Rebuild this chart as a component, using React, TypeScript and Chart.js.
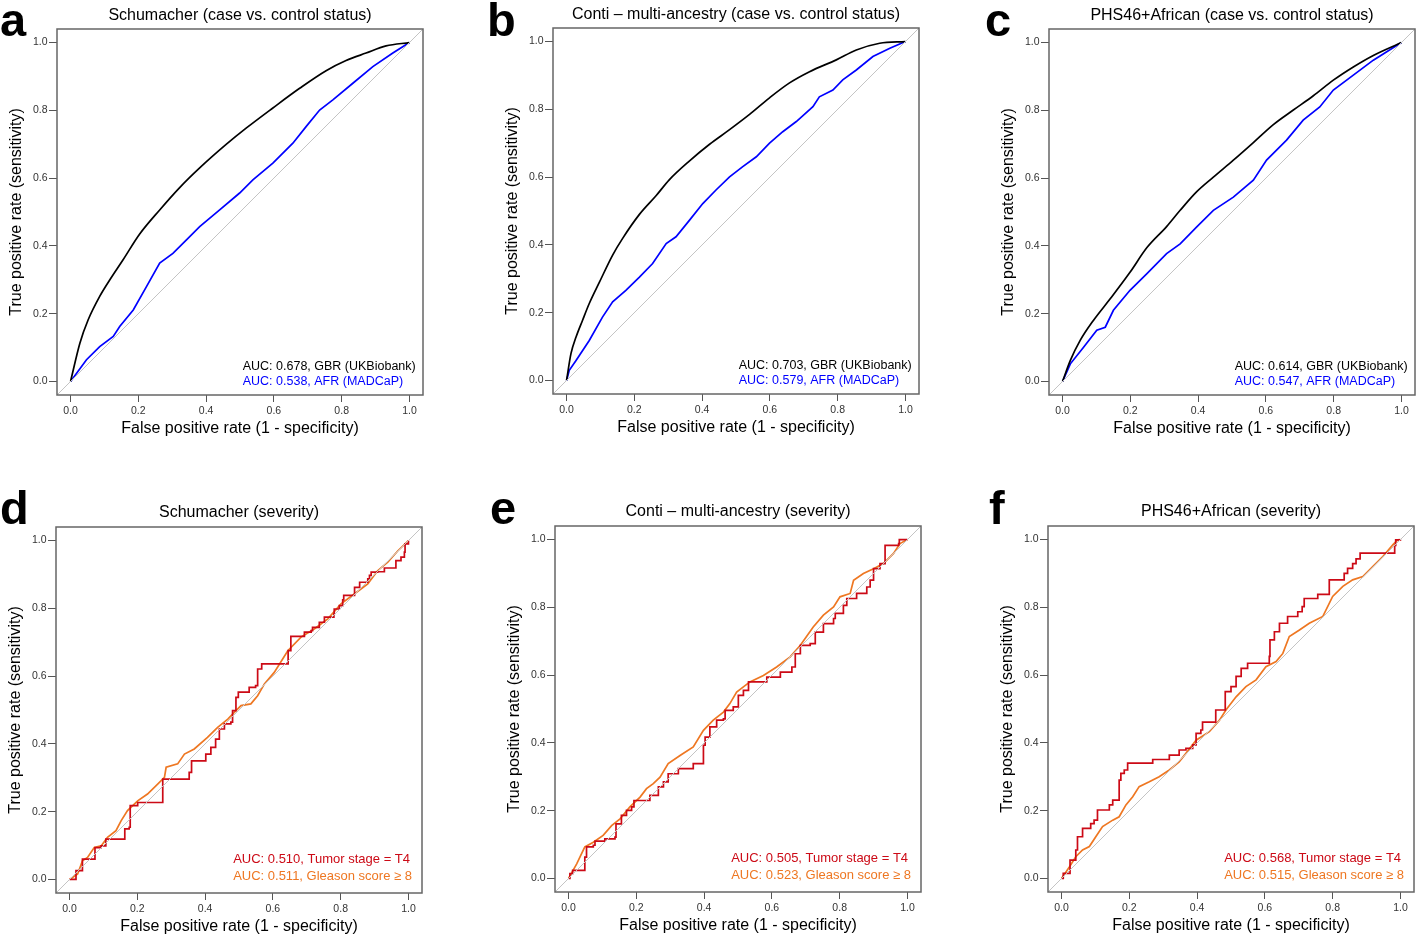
import React, { useEffect, useRef } from "react";
import { Chart, registerables } from "chart.js";

Chart.register(...registerables);

type Pt = [number, number];

// ---------- axis settings ----------
const AXIS_MIN = -0.04;
const AXIS_MAX = 1.04;
const TICK_VALUES = [0, 0.2, 0.4, 0.6, 0.8, 1.0];
const DIAGONAL: Pt[] = [[AXIS_MIN, AXIS_MIN], [AXIS_MAX, AXIS_MAX]];
const X_TITLE = "False positive rate (1 - specificity)";
const Y_TITLE = "True positive rate (sensitivity)";

// ---------- data: [FPR, TPR] ----------
const schumacherCaseGBR: Pt[] = [
  [0, 0], [0.0275, 0.113], [0.052, 0.182], [0.086, 0.251], [0.116, 0.3], [0.155, 0.359],
  [0.204, 0.435], [0.263, 0.506], [0.322, 0.572], [0.381, 0.63], [0.46, 0.7],
  [0.519, 0.748], [0.597, 0.807], [0.676, 0.865], [0.754, 0.917], [0.813, 0.947],
  [0.872, 0.969], [0.931, 0.99], [1, 1],
];
const schumacherCaseAFR: Pt[] = [
  [0, 0], [0.047, 0.064], [0.086, 0.103], [0.126, 0.133], [0.145, 0.162], [0.185, 0.211],
  [0.224, 0.28], [0.263, 0.349], [0.302, 0.378], [0.342, 0.418], [0.381, 0.457],
  [0.44, 0.506], [0.499, 0.556], [0.538, 0.595], [0.597, 0.644], [0.656, 0.703],
  [0.695, 0.752], [0.735, 0.801], [0.774, 0.831], [0.833, 0.88], [0.892, 0.929],
  [0.951, 0.969], [1, 1],
];
const contiCaseGBR: Pt[] = [
  [0, 0], [0.013, 0.079], [0.028, 0.128], [0.047, 0.177], [0.067, 0.227], [0.097, 0.29],
  [0.136, 0.37], [0.166, 0.42], [0.215, 0.49], [0.264, 0.545], [0.303, 0.592],
  [0.363, 0.648], [0.422, 0.697], [0.481, 0.74], [0.54, 0.785], [0.599, 0.834],
  [0.658, 0.878], [0.717, 0.911], [0.796, 0.946], [0.855, 0.975], [0.924, 0.995], [1, 1],
];
const contiCaseAFR: Pt[] = [
  [0, 0], [0.008, 0.03], [0.028, 0.059], [0.067, 0.118], [0.106, 0.187], [0.136, 0.232],
  [0.175, 0.266], [0.215, 0.305], [0.254, 0.345], [0.294, 0.404], [0.323, 0.424],
  [0.363, 0.473], [0.402, 0.522], [0.441, 0.562], [0.481, 0.601], [0.52, 0.631],
  [0.56, 0.66], [0.599, 0.7], [0.638, 0.734], [0.678, 0.764], [0.727, 0.808],
  [0.746, 0.837], [0.786, 0.857], [0.815, 0.887], [0.855, 0.916], [0.904, 0.956],
  [0.954, 0.98], [1, 1],
];
const phsCaseGBR: Pt[] = [
  [0, 0], [0.023, 0.062], [0.052, 0.121], [0.091, 0.18], [0.14, 0.243], [0.199, 0.322],
  [0.249, 0.395], [0.307, 0.457], [0.347, 0.505], [0.396, 0.56], [0.445, 0.603],
  [0.504, 0.653], [0.563, 0.705], [0.622, 0.758], [0.681, 0.801], [0.74, 0.843],
  [0.799, 0.889], [0.858, 0.928], [0.917, 0.962], [1, 1],
];
const phsCaseAFR: Pt[] = [
  [0, 0], [0.023, 0.052], [0.062, 0.101], [0.101, 0.151], [0.126, 0.16], [0.15, 0.21],
  [0.199, 0.269], [0.249, 0.318], [0.307, 0.377], [0.347, 0.406], [0.396, 0.456],
  [0.445, 0.505], [0.504, 0.544], [0.563, 0.594], [0.602, 0.653], [0.661, 0.712],
  [0.71, 0.771], [0.759, 0.81], [0.799, 0.86], [0.858, 0.904], [0.917, 0.948], [1, 1],
];
const schumacherT4: Pt[] = [
  [0, 0], [0.019, 0], [0.019, 0.026], [0.033, 0.026], [0.038, 0.06], [0.073, 0.06],
  [0.075, 0.094], [0.093, 0.099], [0.107, 0.119], [0.161, 0.119], [0.163, 0.149],
  [0.176, 0.154], [0.179, 0.218], [0.201, 0.227], [0.27, 0.227], [0.275, 0.296],
  [0.346, 0.296], [0.353, 0.316], [0.36, 0.35], [0.398, 0.35], [0.402, 0.37],
  [0.417, 0.39], [0.431, 0.414], [0.442, 0.444], [0.457, 0.459], [0.476, 0.464],
  [0.481, 0.498], [0.491, 0.537], [0.498, 0.553], [0.53, 0.553], [0.53, 0.567],
  [0.549, 0.572], [0.555, 0.621], [0.567, 0.636], [0.638, 0.636], [0.645, 0.675],
  [0.653, 0.717], [0.687, 0.717], [0.693, 0.73], [0.713, 0.734], [0.717, 0.744],
  [0.732, 0.744], [0.737, 0.759], [0.752, 0.774], [0.78, 0.783], [0.781, 0.798],
  [0.796, 0.808], [0.806, 0.825], [0.809, 0.838], [0.836, 0.838], [0.841, 0.862],
  [0.856, 0.877], [0.88, 0.887], [0.885, 0.897], [0.89, 0.907], [0.909, 0.908],
  [0.929, 0.919], [0.959, 0.919], [0.963, 0.941], [0.978, 0.951], [0.988, 0.966],
  [0.99, 0.99], [1, 1],
];
const schumacherGleason: Pt[] = [
  [0, 0], [0.024, 0.016], [0.038, 0.055], [0.053, 0.065], [0.073, 0.094], [0.093, 0.099],
  [0.112, 0.124], [0.137, 0.144], [0.152, 0.173], [0.171, 0.203], [0.201, 0.232],
  [0.23, 0.252], [0.26, 0.281], [0.28, 0.301], [0.285, 0.331], [0.319, 0.341],
  [0.339, 0.37], [0.368, 0.385], [0.407, 0.419], [0.437, 0.449], [0.467, 0.473],
  [0.486, 0.493], [0.506, 0.513], [0.535, 0.518], [0.555, 0.542], [0.575, 0.577],
  [0.604, 0.611], [0.644, 0.675], [0.683, 0.715], [0.722, 0.739], [0.762, 0.769],
  [0.801, 0.813], [0.841, 0.843], [0.88, 0.872], [0.909, 0.911], [0.939, 0.936],
  [0.969, 0.97], [1, 1],
];
const contiT4: Pt[] = [
  [0, 0], [0.004, 0.014], [0.012, 0.024], [0.043, 0.024], [0.048, 0.063], [0.053, 0.093],
  [0.073, 0.098], [0.078, 0.11], [0.107, 0.117], [0.137, 0.122], [0.14, 0.161],
  [0.156, 0.186], [0.171, 0.201], [0.186, 0.211], [0.193, 0.23], [0.235, 0.23],
  [0.24, 0.245], [0.26, 0.245], [0.265, 0.27], [0.28, 0.285], [0.294, 0.309],
  [0.324, 0.324], [0.364, 0.324], [0.368, 0.339], [0.384, 0.339], [0.398, 0.393],
  [0.403, 0.417], [0.417, 0.447], [0.437, 0.467], [0.457, 0.471], [0.462, 0.496],
  [0.486, 0.506], [0.501, 0.54], [0.516, 0.555], [0.531, 0.58], [0.58, 0.58],
  [0.585, 0.594], [0.625, 0.609], [0.659, 0.624], [0.669, 0.663], [0.684, 0.688],
  [0.713, 0.693], [0.728, 0.727], [0.752, 0.752], [0.782, 0.767], [0.787, 0.782],
  [0.811, 0.806], [0.821, 0.826], [0.85, 0.841], [0.88, 0.86], [0.89, 0.88],
  [0.9, 0.914], [0.919, 0.929], [0.934, 0.983], [0.974, 0.988], [0.976, 1], [1, 1],
];
const contiGleason: Pt[] = [
  [0, 0], [0.024, 0.043], [0.048, 0.093], [0.073, 0.107], [0.102, 0.127], [0.127, 0.156],
  [0.152, 0.176], [0.181, 0.211], [0.211, 0.24], [0.23, 0.265], [0.25, 0.28],
  [0.27, 0.299], [0.294, 0.339], [0.329, 0.363], [0.368, 0.388], [0.398, 0.437],
  [0.427, 0.467], [0.457, 0.491], [0.476, 0.516], [0.496, 0.55], [0.535, 0.58],
  [0.575, 0.599], [0.614, 0.624], [0.654, 0.654], [0.684, 0.688], [0.722, 0.742],
  [0.752, 0.777], [0.782, 0.801], [0.801, 0.831], [0.831, 0.841], [0.841, 0.88],
  [0.87, 0.9], [0.9, 0.914], [0.929, 0.929], [0.959, 0.959], [0.978, 0.988], [1, 1],
];
const phsT4: Pt[] = [
  [0, 0], [0.005, 0.015], [0.023, 0.015], [0.025, 0.054], [0.037, 0.054], [0.042, 0.084],
  [0.047, 0.123], [0.057, 0.123], [0.062, 0.148], [0.081, 0.148], [0.086, 0.162],
  [0.096, 0.172], [0.106, 0.202], [0.136, 0.202], [0.141, 0.217], [0.151, 0.231],
  [0.165, 0.231], [0.17, 0.29], [0.175, 0.31], [0.185, 0.32], [0.195, 0.34],
  [0.264, 0.34], [0.269, 0.351], [0.313, 0.351], [0.318, 0.364], [0.343, 0.364],
  [0.347, 0.379], [0.367, 0.384], [0.387, 0.394], [0.397, 0.428], [0.411, 0.438],
  [0.416, 0.461], [0.446, 0.461], [0.455, 0.497], [0.475, 0.497], [0.483, 0.551],
  [0.5, 0.566], [0.515, 0.596], [0.53, 0.62], [0.544, 0.62], [0.549, 0.635],
  [0.603, 0.635], [0.613, 0.655], [0.615, 0.704], [0.628, 0.728], [0.643, 0.753],
  [0.663, 0.753], [0.667, 0.773], [0.692, 0.773], [0.697, 0.787], [0.71, 0.802],
  [0.716, 0.826], [0.751, 0.826], [0.756, 0.838], [0.785, 0.838], [0.79, 0.881],
  [0.829, 0.881], [0.834, 0.9], [0.844, 0.915], [0.859, 0.929], [0.869, 0.943],
  [0.881, 0.96], [0.978, 0.96], [0.983, 0.983], [0.986, 0.999], [1, 1],
];
const phsGleason: Pt[] = [
  [0, 0], [0.023, 0.034], [0.042, 0.064], [0.062, 0.084], [0.082, 0.094], [0.101, 0.123],
  [0.121, 0.153], [0.151, 0.172], [0.17, 0.182], [0.19, 0.217], [0.21, 0.241],
  [0.229, 0.271], [0.259, 0.285], [0.288, 0.3], [0.318, 0.32], [0.347, 0.344],
  [0.367, 0.369], [0.397, 0.408], [0.436, 0.433], [0.466, 0.467], [0.485, 0.497],
  [0.515, 0.536], [0.544, 0.566], [0.574, 0.586], [0.603, 0.625], [0.633, 0.64],
  [0.653, 0.664], [0.672, 0.714], [0.702, 0.733], [0.731, 0.753], [0.771, 0.773],
  [0.8, 0.832], [0.83, 0.862], [0.859, 0.881], [0.889, 0.891], [0.919, 0.921],
  [0.948, 0.95], [0.978, 0.985], [0.992, 0.999], [1, 1],
];

// ---------- styling ----------
const FONT = "'Liberation Sans', Arial, Helvetica, sans-serif";
const COLOR_GBR = "#000000";
const COLOR_AFR = "#0000ff";
const COLOR_T4 = "#cc0a16";
const COLOR_GLEASON = "#ee7722";

interface CurveSpec { label: string; color: string; points: Pt[]; stepped?: boolean; smooth?: boolean }
interface PanelSpec {
  letter: string; letterLeft: number; title: string;
  boxLeft: number; boxTop: number; row: 0 | 1; curves: CurveSpec[];
}

const Y_AXIS_W = 57;
const X_AXIS_H = 50;
const TITLE_H = 29;
const PLOT = 366;
const PAD_RIGHT = 2;

const ROW_STYLE = [
  { titlePadTop: 5.7, titlePadBottom: 4.1, legendSize: 12.5, legendInset: 7.3, legendBottom: 13.3, legendGap: 15, letterBaseline: 36 },
  { titlePadTop: 4.6, titlePadBottom: 5.2, legendSize: 13, legendInset: 10, legendBottom: 17, legendGap: 16.5, letterBaseline: 524 },
];

const PANELS: PanelSpec[] = [
  { letter: "a", letterLeft: 0, title: "Schumacher (case vs. control status)", boxLeft: 57, boxTop: 29, row: 0,
    curves: [
      { label: "AUC: 0.678, GBR (UKBiobank)", color: COLOR_GBR, points: schumacherCaseGBR, smooth: true },
      { label: "AUC: 0.538, AFR (MADCaP)", color: COLOR_AFR, points: schumacherCaseAFR },
    ] },
  { letter: "b", letterLeft: 487, title: "Conti \u2013 multi-ancestry (case vs. control status)", boxLeft: 553, boxTop: 28, row: 0,
    curves: [
      { label: "AUC: 0.703, GBR (UKBiobank)", color: COLOR_GBR, points: contiCaseGBR, smooth: true },
      { label: "AUC: 0.579, AFR (MADCaP)", color: COLOR_AFR, points: contiCaseAFR },
    ] },
  { letter: "c", letterLeft: 985, title: "PHS46+African (case vs. control status)", boxLeft: 1049, boxTop: 29, row: 0,
    curves: [
      { label: "AUC: 0.614, GBR (UKBiobank)", color: COLOR_GBR, points: phsCaseGBR, smooth: true },
      { label: "AUC: 0.547, AFR (MADCaP)", color: COLOR_AFR, points: phsCaseAFR },
    ] },
  { letter: "d", letterLeft: 0, title: "Schumacher (severity)", boxLeft: 56, boxTop: 527, row: 1,
    curves: [
      { label: "AUC: 0.510, Tumor stage = T4", color: COLOR_T4, points: schumacherT4, stepped: true },
      { label: "AUC: 0.511, Gleason score \u2265 8", color: COLOR_GLEASON, points: schumacherGleason },
    ] },
  { letter: "e", letterLeft: 490, title: "Conti \u2013 multi-ancestry (severity)", boxLeft: 555, boxTop: 526, row: 1,
    curves: [
      { label: "AUC: 0.505, Tumor stage = T4", color: COLOR_T4, points: contiT4, stepped: true },
      { label: "AUC: 0.523, Gleason score \u2265 8", color: COLOR_GLEASON, points: contiGleason },
    ] },
  { letter: "f", letterLeft: 989, title: "PHS46+African (severity)", boxLeft: 1048, boxTop: 526, row: 1,
    curves: [
      { label: "AUC: 0.568, Tumor stage = T4", color: COLOR_T4, points: phsT4, stepped: true },
      { label: "AUC: 0.515, Gleason score \u2265 8", color: COLOR_GLEASON, points: phsGleason },
    ] },
];

function RocPanel({ spec }: { spec: PanelSpec }) {
  const ref = useRef<HTMLCanvasElement>(null);
  const width = Y_AXIS_W + PLOT + PAD_RIGHT;
  const height = TITLE_H + PLOT + X_AXIS_H;

  useEffect(() => {
    const st = ROW_STYLE[spec.row];
    const tickFont = { family: FONT, size: 10.5 };
    const titleFont = { family: FONT, size: 16, weight: "normal" as const, lineHeight: 1.2 };

    const boxPlugin = {
      id: "plotBox",
      afterDatasetsDraw(chart: any) {
        const { ctx, chartArea: a } = chart;
        ctx.save();
        ctx.strokeStyle = "#666666";
        ctx.lineWidth = 1.5;
        ctx.strokeRect(a.left, a.top, a.right - a.left, a.bottom - a.top);
        ctx.restore();
      },
    };
    const aucLegend = {
      id: "aucLegend",
      afterDraw(chart: any) {
        const { ctx, chartArea: a } = chart;
        ctx.save();
        ctx.font = `${st.legendSize}px ${FONT}`;
        const widths = spec.curves.map((c) => ctx.measureText(c.label).width);
        const left = a.right - st.legendInset - Math.max(...widths);
        const n = spec.curves.length;
        ctx.textBaseline = "middle";
        ctx.textAlign = "left";
        spec.curves.forEach((c, i) => {
          ctx.fillStyle = c.color;
          ctx.fillText(c.label, left, a.bottom - st.legendBottom - (n - 1 - i) * st.legendGap);
        });
        ctx.restore();
      },
    };

    const chart = new Chart(ref.current!, {
      type: "line",
      data: {
        datasets: [
          {
            data: DIAGONAL.map(([x, y]) => ({ x, y })),
            borderColor: "#c4c4c4",
            borderWidth: 1,
            pointRadius: 0,
          },
          ...spec.curves.map((c) => ({
            label: c.label,
            data: c.points.map(([x, y]) => ({ x, y })),
            borderColor: c.color,
            borderWidth: 1.7,
            pointRadius: 0,
            tension: 0,
            cubicInterpolationMode: c.smooth ? ("monotone" as const) : ("default" as const),
            stepped: c.stepped ? ("before" as const) : false,
          })),
        ],
      },
      options: {
        responsive: false,
        maintainAspectRatio: false,
        animation: false,
        devicePixelRatio: 1,
        layout: { padding: { left: 0, right: PAD_RIGHT, top: 0, bottom: 0 } },
        plugins: {
          legend: { display: false },
          tooltip: { enabled: false },
          title: {
            display: true,
            text: spec.title,
            fullSize: false,
            color: "#000000",
            font: titleFont,
            padding: { top: st.titlePadTop, bottom: st.titlePadBottom },
          },
        },
        scales: {
          x: {
            type: "linear",
            min: AXIS_MIN,
            max: AXIS_MAX,
            afterBuildTicks: (s: any) => { s.ticks = TICK_VALUES.map((v) => ({ value: v })); },
            afterFit: (s: any) => { s.height = X_AXIS_H; },
            grid: { drawOnChartArea: false, drawTicks: true, tickLength: 7, tickColor: "#555555", tickWidth: 1 },
            border: { display: false },
            ticks: {
              callback: (v: any) => Number(v).toFixed(1),
              font: tickFont, color: "#333333", padding: 3, maxRotation: 0, autoSkip: false,
            },
            title: { display: true, text: X_TITLE, color: "#000000", font: titleFont, padding: { top: 0, bottom: 7 } },
          },
          y: {
            type: "linear",
            min: AXIS_MIN,
            max: AXIS_MAX,
            afterBuildTicks: (s: any) => { s.ticks = TICK_VALUES.map((v) => ({ value: v })); },
            afterFit: (s: any) => { s.width = Y_AXIS_W; },
            grid: { drawOnChartArea: false, drawTicks: true, tickLength: 8, tickColor: "#555555", tickWidth: 1 },
            border: { display: false },
            ticks: {
              callback: (v: any) => Number(v).toFixed(1),
              font: tickFont, color: "#333333", padding: 1.5, autoSkip: false,
            },
            title: { display: true, text: Y_TITLE, color: "#000000", font: titleFont, padding: { top: 7.4, bottom: 0 } },
          },
        },
      } as any,
      plugins: [boxPlugin, aucLegend],
    });
    return () => chart.destroy();
  }, [spec]);

  return (
    <canvas
      ref={ref}
      width={width}
      height={height}
      style={{
        position: "absolute",
        left: spec.boxLeft - Y_AXIS_W,
        top: spec.boxTop - TITLE_H,
        width,
        height,
      }}
    />
  );
}

export default function App() {
  const LETTER_SIZE = 47;
  return (
    <div
      style={{
        position: "absolute",
        left: 0,
        top: 0,
        width: 1416,
        height: 937,
        overflow: "hidden",
        background: "#ffffff",
        fontFamily: FONT,
      }}
    >
      {PANELS.map((p) => (
        <RocPanel key={p.letter} spec={p} />
      ))}
      {PANELS.map((p) => (
        <div
          key={"l" + p.letter}
          style={{
            position: "absolute",
            left: p.letterLeft,
            top: ROW_STYLE[p.row].letterBaseline - 39.8,
            fontSize: LETTER_SIZE,
            lineHeight: `${LETTER_SIZE}px`,
            fontWeight: "bold",
            fontFamily: FONT,
            color: "#000000",
          }}
        >
          {p.letter}
        </div>
      ))}
    </div>
  );
}
